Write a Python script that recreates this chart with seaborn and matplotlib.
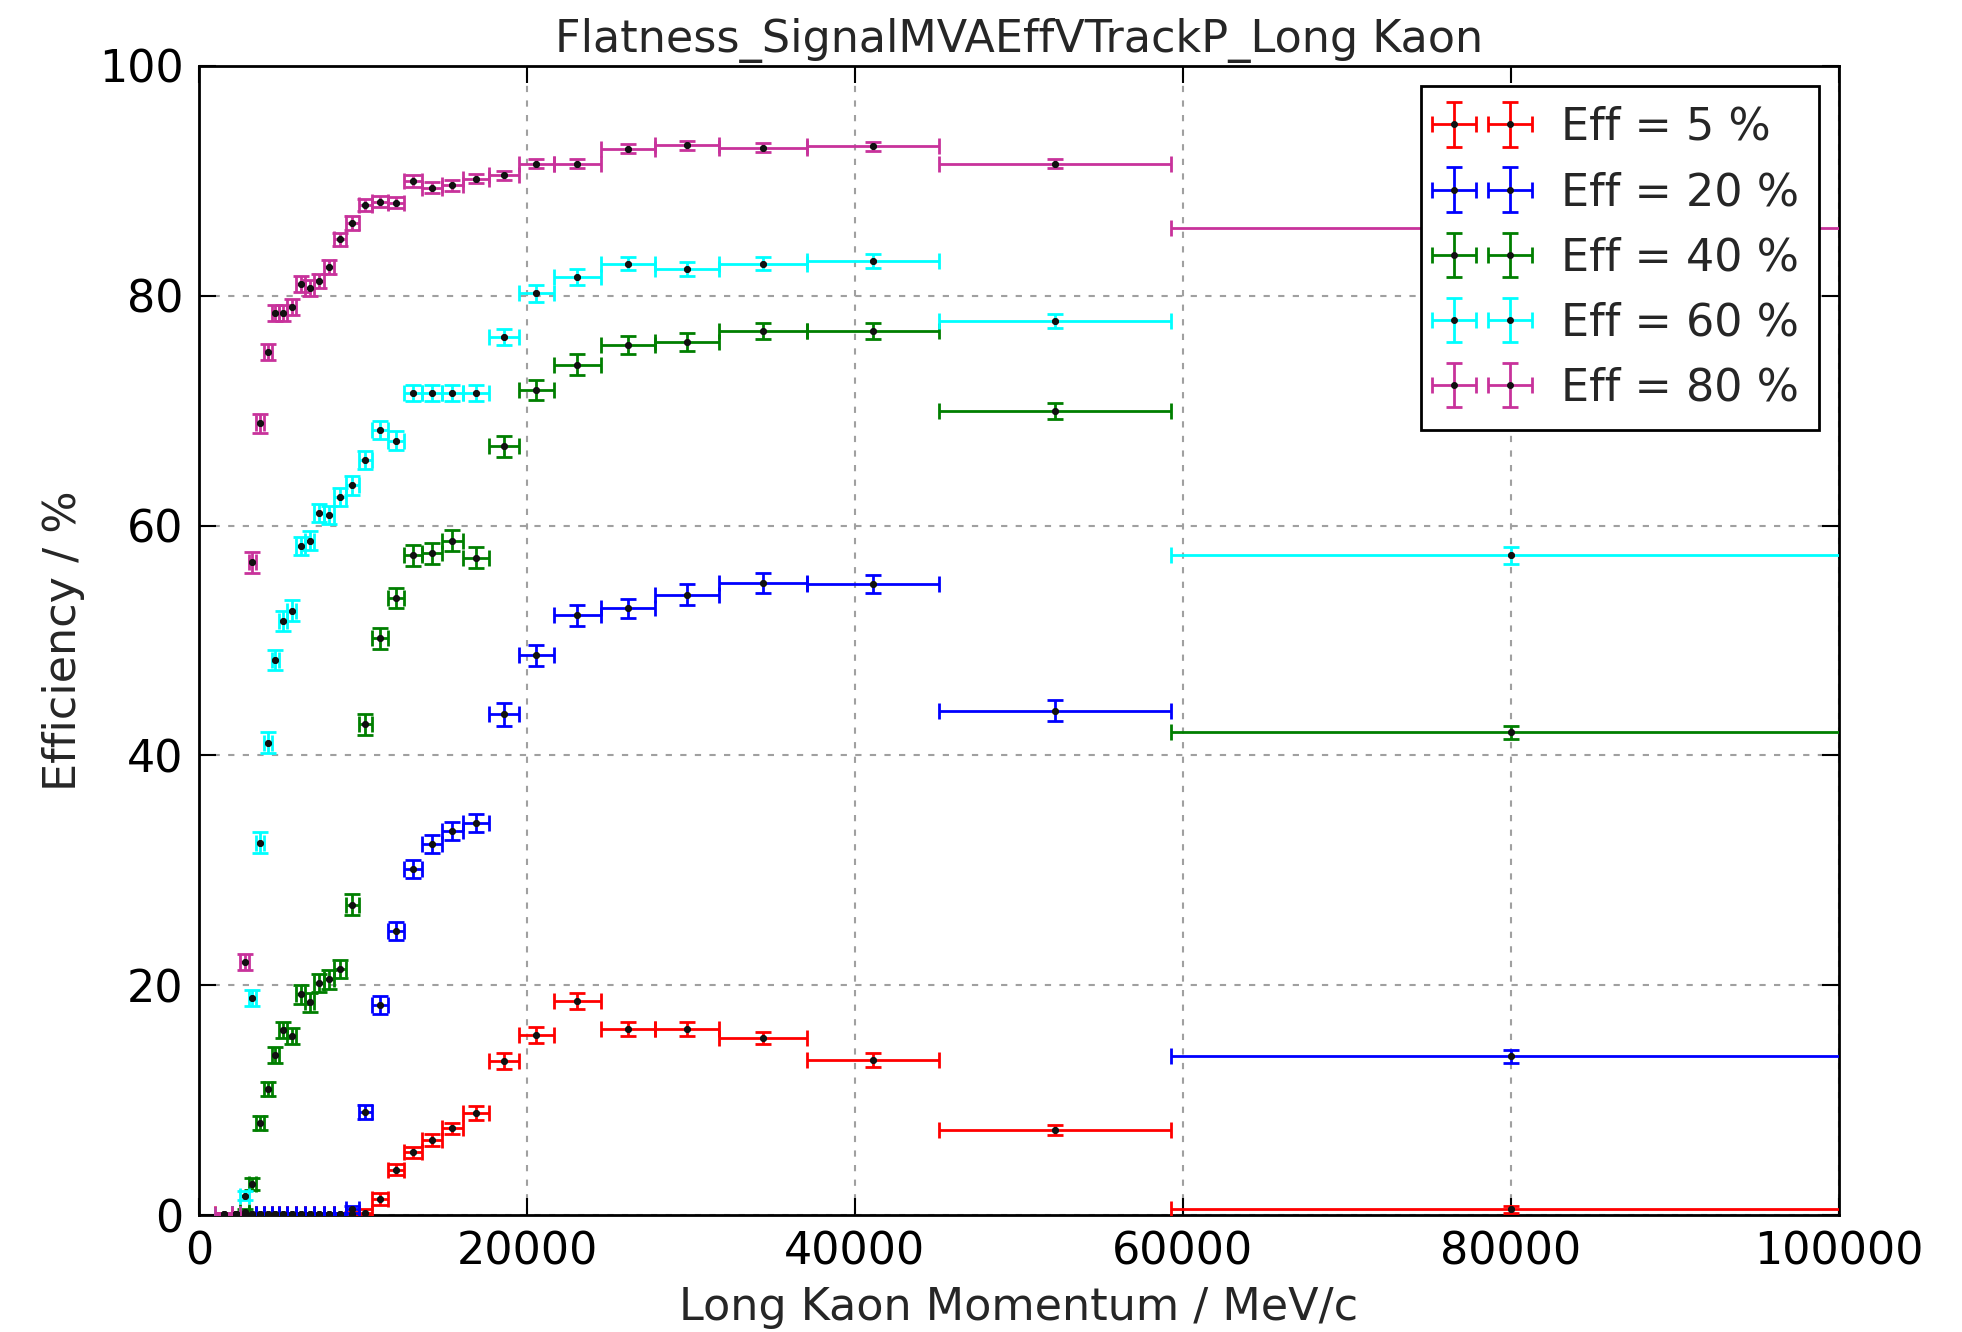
import numpy as np
import pandas as pd
import matplotlib
matplotlib.use("Agg")
import matplotlib.pyplot as plt
import seaborn as sns

# ---------------- data ----------------
# momentum bin edges (MeV/c)
bin_edges = [1000, 2000, 2530, 3030, 3490, 3960, 4430, 4870, 5380, 5920, 6470,
             7020, 7630, 8260, 8950, 9730, 10540, 11500, 12500, 13600, 14800,
             16100, 17700, 19500, 21650, 24500, 27800, 31700, 37100, 45100,
             59300, 100700]

labels = ["Eff = 5 %", "Eff = 20 %", "Eff = 40 %", "Eff = 60 %", "Eff = 80 %"]
colors = ["#ff0000", "#0000ff", "#007f00", "#00ffff", "#c8329b"]

eff5 = [0.1, 0.1, 0.1, 0.1, 0.1, 0.1, 0.1, 0.1, 0.1, 0.1, 0.1, 0.1, 0.1, 0.1,
        0.1, 0.2, 1.4, 3.95, 5.45, 6.55, 7.55, 8.85, 13.4, 15.7, 18.6, 16.2,
        16.2, 15.4, 13.5, 7.4, 0.5]
eff20 = [0.0, 0.1, 0.1, 0.1, 0.1, 0.1, 0.1, 0.1, 0.1, 0.1, 0.1, 0.1, 0.1, 0.1,
         0.5, 9.0, 18.3, 24.7, 30.1, 32.3, 33.4, 34.1, 43.6, 48.7, 52.2, 52.8,
         54.0, 55.0, 54.9, 43.9, 13.8]
eff40 = [0.0, 0.1, 0.3, 2.7, 8.0, 11.0, 13.9, 16.1, 15.6, 19.2, 18.5, 20.2,
         20.5, 21.4, 27.0, 42.7, 50.2, 53.7, 57.4, 57.6, 58.7, 57.2, 66.9,
         71.8, 74.0, 75.7, 76.0, 76.9, 76.9, 70.0, 42.0]
eff60 = [0.0, 0.1, 1.7, 18.9, 32.4, 41.1, 48.3, 51.7, 52.6, 58.2, 58.7, 61.1,
         60.9, 62.5, 63.5, 65.7, 68.3, 67.4, 71.5, 71.5, 71.5, 71.5, 76.4,
         80.2, 81.6, 82.8, 82.3, 82.8, 83.0, 77.8, 57.4]
eff80 = [0.1, 0.1, 22.0, 56.8, 68.9, 75.1, 78.5, 78.5, 79.0, 81.0, 80.7, 81.3,
         82.5, 84.9, 86.3, 87.9, 88.2, 88.1, 90.0, 89.4, 89.6, 90.2, 90.5,
         91.5, 91.5, 92.8, 93.1, 92.9, 93.0, 91.5, 85.9]

err5 = [0.1, 0.1, 0.1, 0.1, 0.1, 0.1, 0.1, 0.1, 0.1, 0.1, 0.1, 0.1, 0.1, 0.1,
        0.2, 0.3, 0.5, 0.5, 0.5, 0.5, 0.5, 0.6, 0.7, 0.7, 0.7, 0.6, 0.6, 0.5,
        0.6, 0.4, 0.3]
err20 = [0.1, 0.1, 0.1, 0.1, 0.1, 0.1, 0.1, 0.1, 0.1, 0.1, 0.1, 0.1, 0.1, 0.1,
         0.3, 0.6, 0.8, 0.8, 0.8, 0.8, 0.8, 0.8, 1.0, 0.9, 0.9, 0.8, 0.9, 0.9,
         0.8, 0.9, 0.6]
err40 = [0.1, 0.1, 0.2, 0.5, 0.6, 0.6, 0.7, 0.7, 0.7, 0.8, 0.8, 0.8, 0.8, 0.8,
         0.9, 0.9, 0.9, 0.9, 0.9, 0.9, 0.9, 0.9, 0.9, 0.9, 0.9, 0.8, 0.8, 0.7,
         0.7, 0.7, 0.6]
err60 = [0.1, 0.1, 0.4, 0.7, 0.9, 0.9, 0.9, 0.9, 0.9, 0.8, 0.8, 0.8, 0.8, 0.8,
         0.8, 0.8, 0.8, 0.8, 0.7, 0.7, 0.7, 0.7, 0.7, 0.7, 0.7, 0.6, 0.6, 0.6,
         0.6, 0.6, 0.7]
err80 = [0.1, 0.1, 0.7, 0.9, 0.8, 0.7, 0.7, 0.7, 0.7, 0.7, 0.7, 0.6, 0.6, 0.6,
         0.6, 0.5, 0.5, 0.5, 0.5, 0.5, 0.5, 0.4, 0.4, 0.4, 0.4, 0.4, 0.4, 0.4,
         0.4, 0.4, 0.4]

series_vals = [eff5, eff20, eff40, eff60, eff80]
series_errs = [err5, err20, err40, err60, err80]

# ---------------- plot ----------------
sns.set_theme(style="white")
plt.rcParams["font.family"] = ["DejaVu Sans"]
plt.rcParams["xtick.direction"] = "in"
plt.rcParams["ytick.direction"] = "in"

edges = np.array(bin_edges, dtype=float)
centers = 0.5 * (edges[1:] + edges[:-1])
half = 0.5 * (edges[1:] - edges[:-1])

rows = []
for lab, vals in zip(labels, series_vals):
    for c, v in zip(centers, vals):
        rows.append({"p": c, "eff": v, "label": lab})
df = pd.DataFrame(rows)

fig = plt.figure(figsize=(19.62, 13.32), dpi=100)
ax = fig.add_axes([0.1014, 0.0878, 0.8359, 0.8627])

FS = 32
for lab, col, vals, errs in zip(labels, colors, series_vals, series_errs):
    ax.errorbar(centers, vals, xerr=half, yerr=errs, fmt=".", color=col,
                ecolor=col, elinewidth=2.0, capsize=5.5, capthick=2.0,
                markersize=8, markerfacecolor="#111111",
                markeredgecolor="#111111", label=lab, zorder=3)

sns.scatterplot(data=df, x="p", y="eff", color="#111111", s=24, linewidth=0,
                ax=ax, legend=False, zorder=4)

ax.set_xlim(0, 100000)
ax.set_ylim(0, 100)
ax.set_xticks([0, 20000, 40000, 60000, 80000, 100000])
ax.set_yticks([0, 20, 40, 60, 80, 100])
ax.grid(True, color="#a0a0a0", linestyle=(0, (3, 4)), linewidth=1.5)
ax.set_axisbelow(True)
for s in ax.spines.values():
    s.set_linewidth(2.0)
    s.set_color("black")
ax.tick_params(axis="both", which="major", labelsize=FS, length=12, width=1.5,
               top=True, right=True, bottom=True, left=True, pad=11,
               colors="black")

ax.set_xlabel("Long Kaon Momentum / MeV/c", fontsize=FS, labelpad=9)
ax.set_ylabel("Efficiency / %", fontsize=FS, labelpad=10)
ax.set_title("Flatness_SignalMVAEffVTrackP_Long Kaon", fontsize=FS, pad=10)

leg = ax.legend(loc="upper right", fontsize=FS, numpoints=2, frameon=True,
                fancybox=False, borderaxespad=0.45, handlelength=1.85,
                labelspacing=0.5, handletextpad=0.85, borderpad=0.45)
leg.get_frame().set_edgecolor("black")
leg.get_frame().set_linewidth(2.0)
leg.get_frame().set_alpha(1.0)

fig.savefig("out.png", dpi=100)
